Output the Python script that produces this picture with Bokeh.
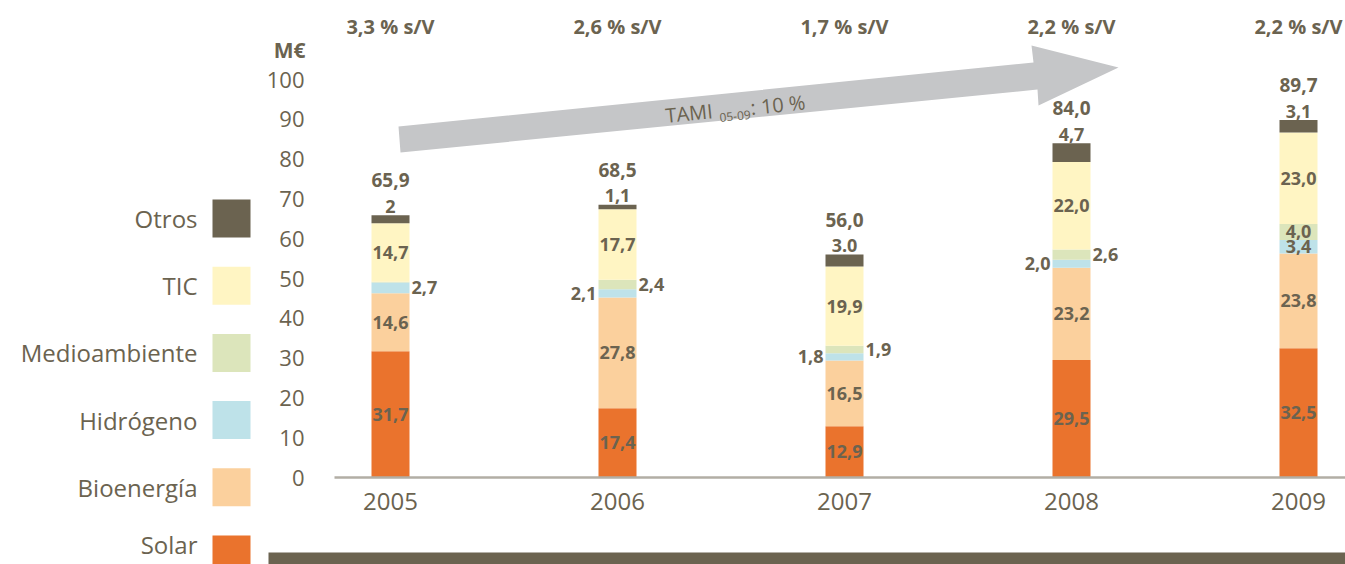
import math
from bokeh.plotting import figure
from bokeh.models import ColumnDataSource, Range1d
from bokeh.core.properties import value
from bokeh.embed import file_html
from bokeh.resources import INLINE

# ---------------- data ----------------
years = ["2005", "2006", "2007", "2008", "2009"]
series = ["Solar", "Bioenergía", "Hidrógeno", "Medioambiente", "TIC", "Otros"]
solar = [31.7, 17.4, 12.9, 29.5, 32.5]
bioenergia = [14.6, 27.8, 16.5, 23.2, 23.8]
hidrogeno = [2.7, 2.1, 1.8, 2.0, 3.4]
medioambiente = [0.2, 2.4, 1.9, 2.6, 4.0]
tic = [14.7, 17.7, 19.9, 22.0, 23.0]
otros = [2.0, 1.1, 3.0, 4.7, 3.1]
otros_labels = ["2", "1,1", "3.0", "4,7", "3,1"]
totals = [65.9, 68.5, 56.0, 84.0, 89.7]
share_labels = ["3,3 % s/V", "2,6 % s/V", "1,7 % s/V", "2,2 % s/V", "2,2 % s/V"]
y_ticks = [0, 10, 20, 30, 40, 50, 60, 70, 80, 90, 100]
unit_label = "M€"
growth_parts = ["TAMI", "05-09", ": 10 %"]

values = {"Solar": solar, "Bioenergía": bioenergia, "Hidrógeno": hidrogeno,
          "Medioambiente": medioambiente, "TIC": tic, "Otros": otros}

# ---------------- style ----------------
colors = {"Solar": "#EA732D", "Bioenergía": "#FBD09D", "Hidrógeno": "#BEE2E9",
          "Medioambiente": "#DCE5BB", "TIC": "#FFF5C3", "Otros": "#6B6350"}
placement = {"Solar": ["in"] * 5, "Bioenergía": ["in"] * 5,
             "Hidrógeno": ["right", "left", "left", "left", "in"],
             "Medioambiente": ["none", "right", "right", "right", "in"],
             "TIC": ["in"] * 5, "Otros": ["top"] * 5}
TXT = "#6B6350"
FONT = "Open Sans"

W, H = 1345, 564
PXX = 227.0      # pixels per category
PXY = 3.98       # pixels per M€
X0 = 390.0       # page x of first category
Y0 = 477.0       # page y of value 0
BAR_W = 38 / PXX


def dx(px):
    return (px - X0) / PXX


def dy(py):
    return (Y0 - py) / PXY


p = figure(width=W, height=H, x_range=Range1d(dx(0), dx(W)),
           y_range=Range1d(dy(H), dy(0)), x_axis_type=None, y_axis_type=None,
           toolbar_location=None, output_backend="svg", min_border=0,
           outline_line_color=None, background_fill_color="white",
           border_fill_color="white")

xs = list(range(len(years)))

# cumulative stacks
bottoms = {}
tops = {}
acc = [0.0] * len(years)
for s in series:
    bottoms[s] = acc[:]
    acc = [a + v for a, v in zip(acc, values[s])]
    tops[s] = acc[:]

# "Otros" labels sit on the bar top, slightly hidden by it (drawn first)
top_src = ColumnDataSource(dict(x=xs, y=[t + 9 / PXY for t in tops["Otros"]], text=otros_labels))
p.text(x="x", y="y", text="text", source=top_src, text_align="center",
       text_baseline="alphabetic", text_font=value(FONT), text_font_style="bold",
       text_font_size="18px", text_color=TXT)

# bars
for s in series:
    src = ColumnDataSource(dict(x=xs, bottom=bottoms[s], top=tops[s]))
    p.vbar(x="x", width=BAR_W, bottom="bottom", top="top", source=src,
           fill_color=colors[s], line_color=None)

# baseline
p.segment(x0=[dx(334)], y0=[0], x1=[dx(1345)], y1=[0], line_color="#B2AEA5", line_width=2.5)


def fmt(v):
    return f"{v:.1f}".replace(".", ",")


# segment labels
groups = {"in": ([], [], [], "center"), "left": ([], [], [], "right"), "right": ([], [], [], "left")}
for s in series:
    for i in xs:
        where = placement[s][i]
        if where not in groups:
            continue
        gx, gy, gt, _ = groups[where]
        mid = (bottoms[s][i] + tops[s][i]) / 2
        if where == "in":
            gx.append(i)
        elif where == "left":
            gx.append(i - BAR_W / 2 - 2 / PXX)
        else:
            gx.append(i + BAR_W / 2 + 2 / PXX)
        gy.append(mid)
        gt.append(fmt(values[s][i]))
for where, (gx, gy, gt, align) in groups.items():
    p.text(x=gx, y=gy, text=gt, text_align=align, text_baseline="middle",
           text_font=value(FONT), text_font_style="bold", text_font_size="18px",
           text_color=TXT)

# totals
p.text(x=xs, y=[t + 35 / PXY for t in tops["Otros"]], text=[fmt(t) for t in totals],
       text_align="center", text_baseline="middle", text_font=value(FONT),
       text_font_style="bold", text_font_size="19px", text_color=TXT)

# share of sales
p.text(x=xs, y=[dy(26)] * len(xs), text=share_labels, text_align="center",
       text_baseline="middle", text_font=value(FONT), text_font_style="bold",
       text_font_size="20px", text_color=TXT)

# y tick labels
p.text(x=[dx(304)] * len(y_ticks), y=y_ticks, text=[str(t) for t in y_ticks],
       text_align="right", text_baseline="middle", text_font=value(FONT),
       text_font_size="22px", text_color=TXT)
p.text(x=[dx(305)], y=[dy(49)], text=[unit_label], text_align="right",
       text_baseline="middle", text_font=value(FONT), text_font_style="bold",
       text_font_size="21px", text_color=TXT)

# year labels
p.text(x=xs, y=[dy(501)] * len(xs), text=years, text_align="center",
       text_baseline="middle", text_font=value(FONT), text_font_size="24px",
       text_color=TXT)

# growth arrow
arrow_px = [(398, 126), (1033, 62), (1031, 45), (1118, 67), (1038, 105), (1037, 89), (400, 152)]
p.patch(x=[dx(a) for a, b in arrow_px], y=[dy(b) for a, b in arrow_px],
        fill_color="#C5C6C8", line_color=None)
ang = math.atan2(64, 635)
p.text(x=[dx(665)], y=[dy(115)], text=[growth_parts[0]], angle=ang, text_align="left",
       text_baseline="alphabetic", text_font=value(FONT), text_font_size="20px", text_color=TXT)
p.text(x=[dx(719)], y=[dy(117)], text=[growth_parts[1]], angle=ang, text_align="left",
       text_baseline="alphabetic", text_font=value(FONT), text_font_size="12px", text_color=TXT)
p.text(x=[dx(750)], y=[dy(107)], text=[growth_parts[2]], angle=ang, text_align="left",
       text_baseline="alphabetic", text_font=value(FONT), text_font_size="20px", text_color=TXT)

# legend (top to bottom: reversed stack order); last row kept inside the canvas
leg_names = list(reversed(series))
sq_y = [218 + 67.2 * k for k in range(len(leg_names))]
txt_y = sq_y[:-1] + [544]
p.rect(x=[dx(231)] * len(leg_names), y=[dy(v) for v in sq_y], width=38 / PXX,
       height=38 / PXY, fill_color=[colors[n] for n in leg_names], line_color=None)
p.text(x=[dx(197)] * len(leg_names), y=[dy(v) for v in txt_y], text=leg_names,
       text_align="right", text_baseline="middle", text_font=value(FONT),
       text_font_size="24px", text_color=TXT)

# footer band
p.quad(left=[dx(268)], right=[dx(1345)], bottom=[dy(564)], top=[dy(552)],
       fill_color="#6B6350", line_color=None)

open("out.html", "w").write(file_html(p, INLINE))
